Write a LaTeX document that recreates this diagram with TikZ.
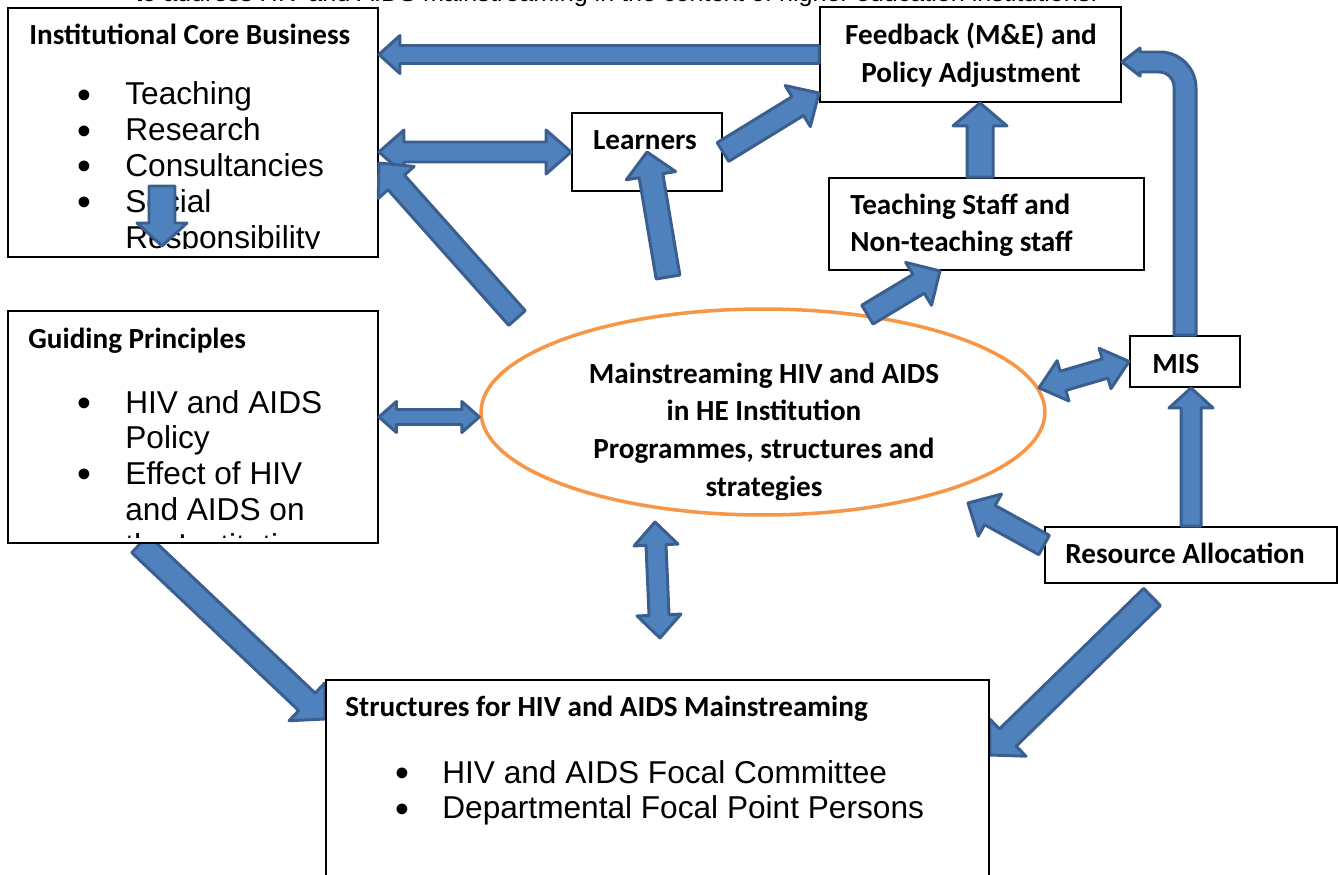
\documentclass[tikz,border=0pt]{standalone}
\usepackage{fontspec}
\setmainfont{Liberation Sans}
\newfontfamily\headfont{Carlito}
\usetikzlibrary{calc,shapes.geometric,backgrounds}

\definecolor{arrowfill}{HTML}{4F81BD}
\definecolor{arrowline}{HTML}{3A5F8F}
\definecolor{ringline}{HTML}{F79646}

\tikzset{
    box/.style={draw, line width=1.1pt, fill=white, inner sep=0pt},
    ring/.style={ellipse, draw=ringline, line width=2pt, fill=white, inner sep=0pt,
        minimum width=11.28cm, minimum height=4.12cm},
    heading/.style={font=\headfont\bfseries\fontsize{16.6}{21.6}\selectfont, inner sep=0pt},
    items/.style={font=\fontsize{18}{20.4}\selectfont, inner sep=0pt, anchor=base west},
    arrowbody/.style={draw=arrowline, fill=arrowfill, line width=1.7pt, line join=round},
}

% list bullet, a little larger than the text one
\newcommand{\listdot}{\smash{\raisebox{-0.1em}{\scalebox{1.25}{\textbullet}}}}

% block arrow: tail, tip, half shaft width, half head width, head length
\newcommand{\blockarrow}[5]{%
    \coordinate (ba-s) at (#1);
    \coordinate (ba-e) at (#2);
    \coordinate (ba-n) at ($(ba-e)!#5!(ba-s)$);
    \draw[arrowbody] ($(ba-s)!#3!90:(ba-e)$) -- ($(ba-n)!#3!90:(ba-e)$)
        -- ($(ba-n)!#4!90:(ba-e)$) -- (ba-e) -- ($(ba-n)!#4!-90:(ba-e)$)
        -- ($(ba-n)!#3!-90:(ba-e)$) -- ($(ba-s)!#3!-90:(ba-e)$) -- cycle;
}
% same, with a head at both ends
\newcommand{\blockarrowboth}[5]{%
    \coordinate (ba-s) at (#1);
    \coordinate (ba-e) at (#2);
    \coordinate (ba-m) at ($(ba-s)!#5!(ba-e)$);
    \coordinate (ba-n) at ($(ba-e)!#5!(ba-s)$);
    \draw[arrowbody] (ba-s) -- ($(ba-m)!#4!90:(ba-e)$) -- ($(ba-m)!#3!90:(ba-e)$)
        -- ($(ba-n)!#3!90:(ba-e)$) -- ($(ba-n)!#4!90:(ba-e)$) -- (ba-e)
        -- ($(ba-n)!#4!-90:(ba-e)$) -- ($(ba-n)!#3!-90:(ba-e)$)
        -- ($(ba-m)!#3!-90:(ba-e)$) -- ($(ba-m)!#4!-90:(ba-e)$) -- cycle;
}

\begin{document}
\begin{tikzpicture}[x=0.02cm, y=-0.02cm]
    \useasboundingbox (0,0) rectangle (1338,875);
    \clip (0,0) rectangle (1338,875);

    % Free ends of the arrows
    \coordinate (tailCore) at (517,318);
    \coordinate (tailLearn) at (668,277);
    \coordinate (tipRes) at (968,503);
    \coordinate (topStruct) at (655,522);
    \coordinate (botStruct) at (660,638);
    \coordinate (tailStruct) at (1152,597);
    \coordinate (downTop) at (162,186);
    \coordinate (downTip) at (162,246);

    % Running text cut by the top edge
    \node[items, font=\fontsize{14.3}{16}\selectfont] (intro) at (135,2)
        {to address HIV and AIDS mainstreaming in the context of higher education institutions.};

    % Draw the ellipse
    \node[ring] (main) at (763,412) {};
    \begin{scope}
        \clip (480,300) rectangle (1050,499);
        \node[heading, anchor=base] (main-text) at (764,383) {\begin{tabular}[t]{@{}c@{}}
            Mainstreaming HIV and AIDS\\ in HE Institution\\
            Programmes, structures and\\ strategies\end{tabular}};
    \end{scope}

    % Draw the boxes
    \node[box, minimum width=7.4cm, minimum height=4.98cm] (core) at (193,132.5) {};
    \node[box, minimum width=6.02cm, minimum height=1.9cm] (feedback) at (970.5,54.5) {};
    \node[box, minimum width=3cm, minimum height=1.56cm] (learners) at (647,152) {};
    \node[box, minimum width=6.3cm, minimum height=1.84cm] (staff) at (986.5,224) {};
    \node[box, minimum width=7.4cm, minimum height=4.64cm] (guiding) at (193,427) {};
    \node[box, minimum width=2.2cm, minimum height=1.02cm] (mis) at (1185,361.5) {};
    \node[box, minimum width=5.84cm, minimum height=1.12cm] (resource) at (1191,555) {};
    \node[box, minimum width=13.26cm, minimum height=4cm] (structures) at (657.5,780) {};

    % Draw the labels
    \node[heading, anchor=base west] (core-title) at (29,45) {Institutional Core Business};
    \begin{scope}
        \clip (8,8) rectangle (378,248);
        \node[items] (core-list) at (77,105) {\begin{tabular}[t]{@{}p{0.96cm}@{}l@{}}
            \listdot & Teaching\\ \listdot & Research\\ \listdot & Consultancies\\
            \listdot & Social\\ & Responsibility\end{tabular}};
    \end{scope}
    \node[heading, anchor=base west] (guiding-title) at (28,348) {Guiding Principles};
    \begin{scope}
        \clip (8,311) rectangle (378,537);
        \node[items] (guiding-list) at (77,413) {\begin{tabular}[t]{@{}p{0.96cm}@{}l@{}}
            \listdot & HIV and AIDS\\ & Policy\\ \listdot & Effect of HIV\\
            & and AIDS on\\ & the Institution\end{tabular}};
    \end{scope}
    \node[heading, anchor=base west] (structures-title) at (345,716)
        {Structures for HIV and AIDS Mainstreaming};
    \node[items] (structures-list) at (395,783) {\begin{tabular}[t]{@{}p{0.94cm}@{}l@{}}
        \listdot & HIV and AIDS Focal Committee\\
        \listdot & Departmental Focal Point Persons\end{tabular}};
    \node[heading, anchor=base] (feedback-text) at (971,45) {\begin{tabular}[t]{@{}c@{}}
        Feedback (M\&E) and\\ Policy Adjustment\end{tabular}};
    \node[heading, anchor=base] (learners-text) at (645,150) {Learners};
    \node[heading, anchor=base west] (staff-text) at (850,214) {\begin{tabular}[t]{@{}l@{}}
        Teaching Staff and\\ Non-teaching staff\end{tabular}};
    \node[heading, anchor=base west] (mis-text) at (1152,373) {MIS};
    \node[heading, anchor=base] (resource-text) at (1185,563) {Resource Allocation};

    % Arrows that go under the bottom box
    \begin{scope}[on background layer]
        \blockarrow{guiding.south -| 140,0}{structures.west |- 0,719}{0.24cm}{0.52cm}{0.5cm}
        \blockarrow{tailStruct}{structures.east |- 0,755}{0.24cm}{0.52cm}{0.5cm}
    \end{scope}

    % Draw the arrows
    \blockarrow{feedback.west}{core.east |- feedback.west}{0.18cm}{0.38cm}{0.42cm}
    \blockarrowboth{core.east |- learners.west}{learners.west}{0.2cm}{0.44cm}{0.5cm}
    \blockarrow{tailCore}{core.east |- 0,163}{0.22cm}{0.48cm}{0.52cm}
    \blockarrow{downTop}{downTip}{0.26cm}{0.5cm}{0.46cm}
    \blockarrow{learners.east}{feedback.west |- 0,93}{0.22cm}{0.48cm}{0.5cm}
    \blockarrow{tailLearn}{learners.center}{0.24cm}{0.5cm}{0.48cm}
    \blockarrow{staff.north -| 980,0}{feedback.south -| 980,0}{0.26cm}{0.54cm}{0.46cm}
    \blockarrow{main.43}{staff.south -| 940,0}{0.22cm}{0.5cm}{0.5cm}
    \blockarrowboth{guiding.east |- 0,417}{main.west |- 0,417}{0.15cm}{0.31cm}{0.35cm}
    \blockarrowboth{main.5}{mis.west}{0.2cm}{0.42cm}{0.5cm}
    \blockarrow{resource.north -| 1191,0}{mis.south -| 1191,0}{0.2cm}{0.44cm}{0.4cm}
    \blockarrow{resource.west |- 0,545}{tipRes}{0.22cm}{0.48cm}{0.5cm}
    \blockarrowboth{topStruct}{botStruct}{0.2cm}{0.44cm}{0.46cm}

    % Bent arrow from MIS up to the feedback box
    \draw[arrowbody] (mis.north -| 1174,0) -- (1174,87)
        arc[start angle=0, end angle=90, radius=0.3cm] -- (1140,72) -- (1140,76)
        -- (feedback.east |- 0,62) -- (1140,48) -- (1140,52) -- (1160,52)
        arc[start angle=90, end angle=0, radius=0.72cm] -- (mis.north -| 1196,0) -- cycle;
\end{tikzpicture}
\end{document}
